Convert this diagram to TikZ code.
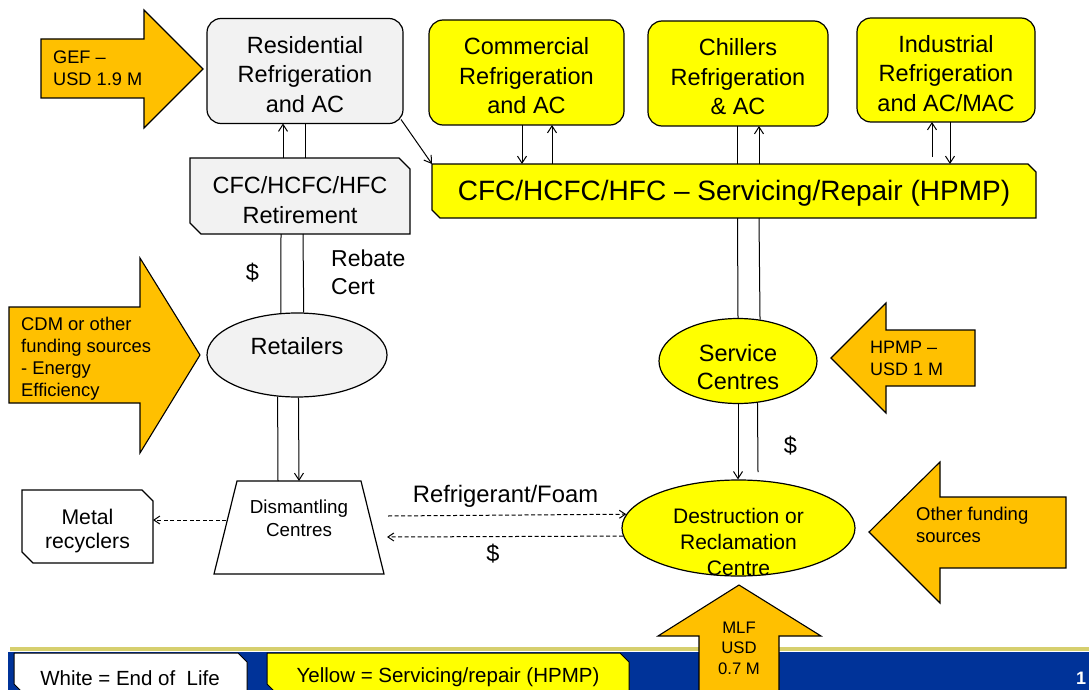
\documentclass[tikz,border=0pt]{standalone}
\usepackage{fontspec}
\setmainfont{Liberation Sans}
\usetikzlibrary{arrows.meta,calc,shapes.geometric}
\definecolor{orA}{HTML}{FFC000}
\definecolor{yelA}{HTML}{FFFF00}
\definecolor{grA}{HTML}{F2F2F2}
\definecolor{bandB}{HTML}{003399}
\definecolor{khA}{HTML}{D6CF6E}
\newcommand\fsz[2]{\fontsize{#1}{#2}\selectfont}
\begin{document}
\begin{tikzpicture}[x=1pt,y=-1pt,
  ln/.style={line width=1pt},
  arr/.style={line width=1pt,-{Straight Barb[length=7pt,width=9pt]}},
  darr/.style={line width=1pt,dash pattern=on 4pt off 2.5pt,-{Straight Barb[length=6pt,width=8pt]}},
  rbox/.style={draw,line width=1.2pt,rounded corners=14pt,inner sep=0pt,outer sep=0pt},
  frame/.style={inner sep=0pt,outer sep=0pt},
  shp/.style={draw,line width=1.2pt,line join=miter},
  ell/.style={draw,ellipse,line width=1.2pt,inner sep=0pt},
  txt/.style={inner sep=0pt,align=center},
  big/.style={txt,font={\fsz{23.5}{29.5}}},
  blk/.style={draw,line width=1.1pt,fill=orA,line join=miter},
  btxt/.style={anchor=west,align=left,inner sep=0pt},
]
\useasboundingbox (0,0) rectangle (1089,690);
\fill[white] (0,0) rectangle (1089,690);
% ---------- bottom band ----------
\fill[khA] (10,647) rectangle (1089,651);
\fill[bandB] (8,652) rectangle (1089,690);
% legend boxes
\node[frame,minimum width=233pt,minimum height=40pt] (lgw) at (130.5,673) {};
\draw[shp,line width=1pt,fill=white] (lgw.north west) -- ($(lgw.north east)+(-9,0)$) -- ($(lgw.north east)+(0,9)$) -- (lgw.south east) -- ($(lgw.south west)+(9,0)$) -- ($(lgw.south west)+(0,-9)$) -- cycle;
\node[txt,font={\fsz{20.5}{24}}] (lgwt) at (130,677.8) {White = End of\ \ Life};
\node[frame,minimum width=362pt,minimum height=40pt] (lgy) at (448,673) {};
\draw[shp,line width=1pt,fill=yelA] (lgy.north west) -- ($(lgy.north east)+(-9,0)$) -- ($(lgy.north east)+(0,9)$) -- (lgy.south east) -- ($(lgy.south west)+(9,0)$) -- ($(lgy.south west)+(0,-9)$) -- cycle;
\node[txt,font={\fsz{20.5}{24}}] (lgyt) at (448,677) {Yellow = Servicing/repair (HPMP)};
\node[anchor=west,inner sep=0pt,text=white,font={\fsz{18}{20}\bfseries}] (pgn) at (1076,678.5) {1};
% ---------- block arrows ----------
\draw[blk] (41,39) -- (144,39) -- (144,10) -- (203,69) -- (144,128) -- (144,98) -- (41,98) -- cycle;
\node[btxt,font={\fsz{18.2}{21.7}}] (geft) at (53,68.3) {GEF –\\USD 1.9 M};
\draw[blk] (9,307) -- (140,307) -- (140,258) -- (200,355) -- (140,453) -- (140,403) -- (9,403) -- cycle;
\node[btxt,font={\fsz{18.4}{21.9}}] (cdmt) at (21,359) {CDM or other\\funding sources\\- Energy\\Efficiency};
\draw[blk] (831,358) -- (886,303) -- (886,330) -- (975,330) -- (975,386) -- (886,386) -- (886,413) -- cycle;
\node[btxt,font={\fsz{18}{22.7}}] (hpmpt) at (870,358.3) {HPMP –\\USD 1 M};
\draw[blk] (869,532) -- (940,462) -- (940,497) -- (1066,497) -- (1066,568) -- (940,568) -- (940,603) -- cycle;
\node[btxt,font={\fsz{18.5}{21.6}}] (othert) at (916,525) {Other funding\\sources};
\draw[blk] (739,585) -- (821,636) -- (779,636) -- (779,700) -- (699,700) -- (699,636) -- (658,636) -- cycle;
\node[txt,font={\fsz{16.7}{20.5}}] (mlft) at (739,648.3) {MLF\\USD\\0.7 M};
% ---------- top boxes ----------
\node[rbox,fill=grA,minimum width=196pt,minimum height=105pt] (res) at (305,71) {};
\node[big] (rest) at (305,74.5) {Residential\\Refrigeration\\and AC};
\node[rbox,fill=yelA,minimum width=195pt,minimum height=105pt] (com) at (526.5,72.5) {};
\node[big] (comt) at (526.5,76) {Commercial\\Refrigeration\\and AC};
\node[rbox,fill=yelA,minimum width=180pt,minimum height=105pt] (chi) at (738,73.5) {};
\node[big] (chit) at (738,77) {Chillers\\Refrigeration\\\& AC};
\node[rbox,fill=yelA,minimum width=178pt,minimum height=104pt] (ind) at (946,70) {};
\node[big] (indt) at (946,73.5) {Industrial\\Refrigeration\\and AC/MAC};
% servicing bar
\node[frame,minimum width=604pt,minimum height=54pt] (bar) at (734,191) {};
\draw[shp,fill=yelA] (bar.north west) -- ($(bar.north east)+(-8,0)$) -- ($(bar.north east)+(0,8)$) -- (bar.south east) -- ($(bar.south west)+(8,0)$) -- ($(bar.south west)+(0,-8)$) -- cycle;
\node[txt,font={\fsz{28}{32}}] (bart) at (734,193.5) {CFC/HCFC/HFC – Servicing/Repair (HPMP)};
% retirement
\node[frame,minimum width=220pt,minimum height=76pt] (ret) at (300,196) {};
\draw[shp,fill=grA] (ret.north west) -- ($(ret.north east)+(-11,0)$) -- ($(ret.north east)+(0,11)$) -- (ret.south east) -- ($(ret.south west)+(11,0)$) -- ($(ret.south west)+(0,-11)$) -- cycle;
\node[big] (rett) at (300,200) {CFC/HCFC/HFC\\Retirement};
% retailers
\node[ell,fill=grA,minimum width=180pt,minimum height=84pt] (retail) at (297,355) {};
\node[big] (retailt) at (297,346.5) {Retailers};
% dismantling
\node[frame,minimum width=170pt,minimum height=93pt] (dis) at (299,527.5) {};
\draw[shp,fill=white] ($(dis.north west)+(23,0)$) -- ($(dis.north east)+(-23,0)$) -- (dis.south east) -- (dis.south west) -- cycle;
\node[txt,font={\fsz{18.8}{22.7}}] (dist) at (299,518.5) {Dismantling\\Centres};
% metal recyclers
\node[frame,minimum width=131pt,minimum height=73pt] (metal) at (87.5,526.5) {};
\draw[shp,fill=white] (metal.north west) -- ($(metal.north east)+(-11,0)$) -- ($(metal.north east)+(0,11)$) -- (metal.south east) -- ($(metal.south west)+(11,0)$) -- ($(metal.south west)+(0,-11)$) -- cycle;
\node[txt,font={\fsz{21.2}{23.3}}] (metalt) at (87.5,531) {Metal\\recyclers};
% service centres
\node[ell,fill=yelA,minimum width=158pt,minimum height=85pt] (svc) at (738,361) {};
\node[txt,font={\fsz{23.5}{28.3}}] (svct) at (738,367) {Service\\Centres};
% destruction
\node[ell,fill=yelA,minimum width=233pt,minimum height=96pt] (destr) at (738.5,528) {};
\node[txt,font={\fsz{21}{26}}] (destrt) at (738.5,541.5) {Destruction or\\Reclamation\\Centre};
% ---------- connectors ----------
\draw[arr] ($(res.south east)+(-2,-4)$) -- (bar.north west);
\draw[arr] (ret.north -| 283,0) -- (res.south -| 283,0);
\draw[ln] (res.south -| 305,0) -- (ret.north -| 305,0);
\draw[ln] (ret.south -| 281,0) -- (retail.111.2);
\draw[ln] (ret.south -| 303,0) -- (retail.81.85);
\draw[ln] (retail.245.2) -- (dis.north -| 278,0);
\draw[arr] (retail.272.7) -- (dis.north -| 299,0);
\draw[arr] (com.south -| 522,0) -- (bar.north -| 522,0);
\draw[arr] (bar.north -| 552,0) -- (com.south -| 552,0);
\draw[ln] (chi.south -| 737.5,0) -- (bar.north -| 737.5,0);
\draw[arr] (bar.north -| 759,0) -- (chi.south -| 759,0);
\coordinate (indup) at (932,157);
\draw[arr] (indup) -- (ind.south -| 932,0);
\draw[arr] (ind.south -| 950,0) -- (bar.north -| 950,0);
\draw[ln] (bar.south -| 737.5,0) -- (svc.90.7);
\draw[ln] (bar.south -| 759,0) -- (svc.62.86);
\draw[arr] (svc.south) -- (destr.north -| 738,0);
\coordinate (svcend) at (758,472);
\draw[ln] (svc.295.94) -- (svcend);
\coordinate (dL) at (226,520);
\draw[darr] (dL) -- (metal.east |- dL);
\coordinate (rfs) at (388,516);
\draw[darr] (rfs) -- (destr.173.9);
\coordinate (dse) at (387,537);
\draw[darr] (destr.184.3) -- (dse);
% ---------- labels ----------
\node[txt,font={\fsz{23.5}{28}}] (d1) at (252.5,273) {\$};
\node[btxt,font={\fsz{23}{28.3}}] (reb) at (331,272.5) {Rebate\\Cert};
\node[txt,font={\fsz{23.5}{28}}] (d2) at (790.3,446) {\$};
\node[txt,font={\fsz{23.5}{28}}] (d3) at (493,554) {\$};
\node[txt,font={\fsz{23.8}{28}}] (rf) at (505.5,496.8) {Refrigerant/Foam};
\end{tikzpicture}
\end{document}
